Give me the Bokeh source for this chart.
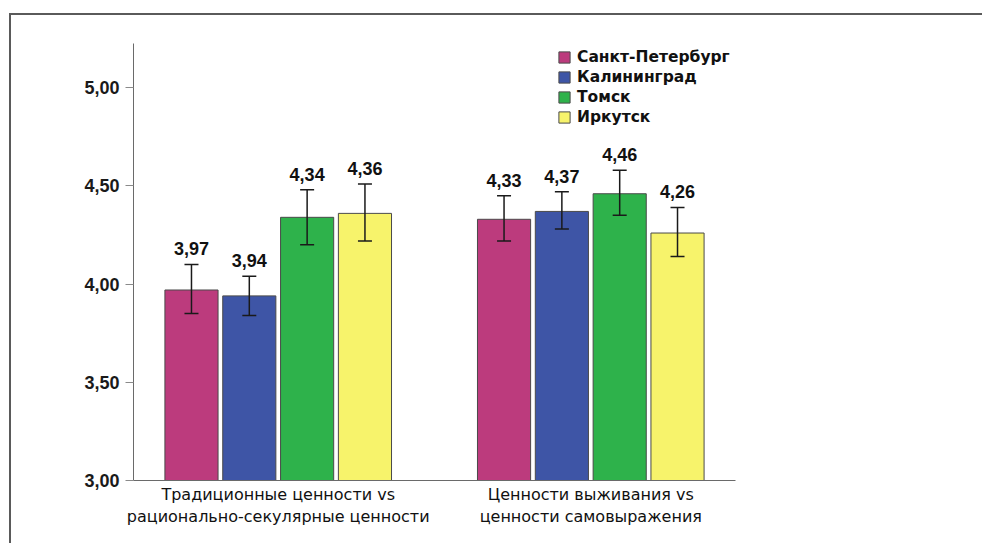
from bokeh.plotting import figure
from bokeh.models import (ColumnDataSource, FactorRange, Range1d, Whisker, Legend,
                          LegendItem, TeeHead, FixedTicker, CustomJSTickFormatter)
from bokeh.transform import dodge
from bokeh.core.properties import value
from bokeh.embed import file_html
from bokeh.resources import INLINE

# ---- data ----
groups = ["Традиционные ценности vs\nрационально-секулярные ценности",
          "Ценности выживания vs\nценности самовыражения"]
cities = ["Санкт-Петербург", "Калининград", "Томск", "Иркутск"]
colors = ["#BC3B7D", "#3E55A6", "#2EB24B", "#F7F36B"]

spb = [3.97, 4.33]
kal = [3.94, 4.37]
tomsk = [4.34, 4.46]
irk = [4.36, 4.26]

spb_lo = [3.85, 4.22]
spb_hi = [4.10, 4.45]
kal_lo = [3.84, 4.28]
kal_hi = [4.04, 4.47]
tomsk_lo = [4.20, 4.35]
tomsk_hi = [4.48, 4.58]
irk_lo = [4.22, 4.14]
irk_hi = [4.51, 4.39]

y_ticks = [3.0, 3.5, 4.0, 4.5, 5.0]

series = [(spb, spb_lo, spb_hi), (kal, kal_lo, kal_hi),
          (tomsk, tomsk_lo, tomsk_hi), (irk, irk_lo, irk_hi)]
offsets = [-0.2775, -0.0925, 0.0925, 0.2775]

FONT_B = "Liberation Sans"
FONT_W = "DejaVu Sans"

p = figure(width=973, height=530, output_backend="svg", toolbar_location=None,
           x_range=FactorRange(factors=groups, range_padding=-0.037,
                               range_padding_units="absolute"),
           y_range=Range1d(3.0, 5.225),
           min_border_left=122, min_border_right=249,
           min_border_top=28, min_border_bottom=65)
p.styles = {"border-top": "2px solid #5a5a5a", "border-left": "2px solid #5a5a5a",
            "margin-top": "13px", "margin-left": "9px"}

p.xgrid.visible = False
p.ygrid.visible = False
p.outline_line_color = None
p.background_fill_color = "white"
p.border_fill_color = "white"

items = []
for city, color, (vals, lo, hi), off in zip(cities, colors, series, offsets):
    src = ColumnDataSource(dict(
        grp=groups, top=vals, lo=lo, hi=hi,
        label=[f"{v:.2f}".replace(".", ",") for v in vals]))
    xs = dodge("grp", off, range=p.x_range)
    r = p.vbar(x=xs, top="top", bottom=3.0, width=0.17, source=src,
               fill_color=color, line_color="#4a4a4a", line_width=1)
    items.append(LegendItem(label=city, renderers=[r]))
    w = Whisker(base=dodge("grp", off, range=p.x_range), upper="hi", lower="lo",
                source=src, dimension="height", line_color="#1a1a1a", line_width=1.5,
                upper_head=TeeHead(size=14, line_color="#1a1a1a", line_width=1.5),
                lower_head=TeeHead(size=14, line_color="#1a1a1a", line_width=1.5),
                level="overlay")
    p.add_layout(w)
    p.text(x=dodge("grp", off, range=p.x_range), y="hi", text="label", source=src,
           y_offset=-9, text_align="center", text_baseline="bottom",
           text_font=value(FONT_B), text_font_style="bold",
           text_font_size="18px", text_color="#111111")

legend = Legend(items=items, location=(424, 353), orientation="vertical",
                padding=0, margin=0, spacing=0, border_line_color=None,
                background_fill_alpha=0,
                glyph_width=14, glyph_height=14, label_height=20,
                label_standoff=6, label_text_font=FONT_W,
                label_text_font_style="bold", label_text_font_size="15.5px",
                label_text_color="#111111")
p.add_layout(legend, "center")

# y axis
p.yaxis.ticker = FixedTicker(ticks=y_ticks)
p.yaxis.formatter = CustomJSTickFormatter(code="return tick.toFixed(2).replace('.', ',');")
p.yaxis.axis_line_color = "#6a6a6a"
p.yaxis.major_tick_line_color = "#8a8a8a"
p.yaxis.major_tick_out = 8
p.yaxis.major_tick_in = 0
p.yaxis.minor_tick_line_color = None
p.yaxis.major_label_standoff = 6
p.yaxis.major_label_text_font = FONT_B
p.yaxis.major_label_text_font_style = "bold"
p.yaxis.major_label_text_font_size = "18px"
p.yaxis.major_label_text_color = "#1a1a1a"

# x axis
p.xaxis.axis_line_color = "#6a6a6a"
p.xaxis.major_tick_line_color = None
p.xaxis.minor_tick_line_color = None
p.xaxis.major_label_standoff = -2
p.xaxis.major_label_text_font = FONT_W
p.xaxis.major_label_text_font_size = "16px"
p.xaxis.major_label_text_color = "#111111"

open("out.html", "w").write(file_html(p, INLINE))
